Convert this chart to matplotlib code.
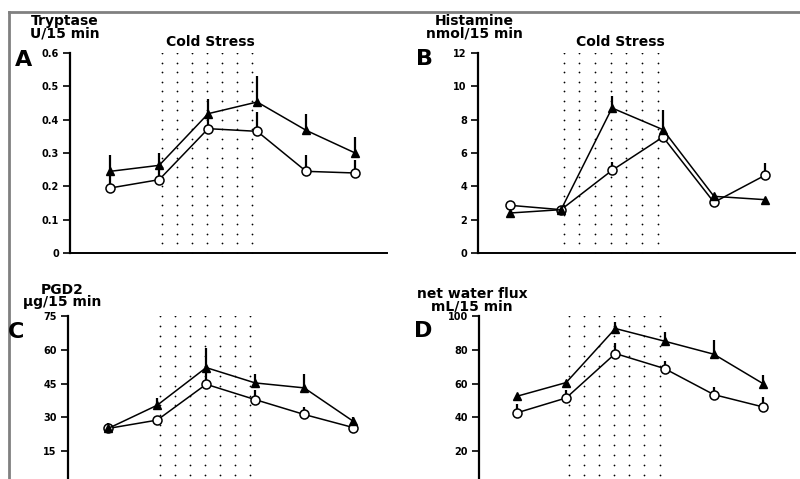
import numpy as np
import matplotlib
matplotlib.use('Agg')
import matplotlib.pyplot as plt
from matplotlib.lines import Line2D

plt.rcParams['font.family'] = ['DejaVu Sans']
plt.rcParams['font.weight'] = 'bold'

W, H = 800, 479

# sampling periods (15 min each); cold stress over periods 2-4
periods = [1, 2, 3, 4, 5, 6]
cold_start, cold_end = 2.0, 3.95

# A: tryptase, U/15 min
tryp_tri = [0.245, 0.263, 0.418, 0.453, 0.368, 0.300]
tryp_tri_err = [0.05, 0.037, 0.045, 0.077, 0.05, 0.048]
tryp_circ = [0.195, 0.22, 0.373, 0.365, 0.245, 0.24]
tryp_circ_err = [0.035, 0.04, 0.04, 0.058, 0.048, 0.038]

# B: histamine, nmol/15 min
hist_tri = [2.4, 2.6, 8.7, 7.4, 3.4, 3.2]
hist_tri_err = [0, 0.2, 0.7, 1.2, 0, 0]
hist_circ = [2.86, 2.6, 4.96, 6.96, 3.04, 4.66]
hist_circ_err = [0, 0, 0.5, 0, 0, 0.74]

# C: PGD2, ug/15 min
pgd_tri = [25.1, 35.4, 52.1, 45.3, 43.1, 28.3]
pgd_tri_err = [2.2, 3.0, 8.5, 3.9, 6.1, 1.9]
pgd_circ = [25.1, 28.8, 44.7, 37.9, 31.3, 25.5]
pgd_circ_err = [0, 1.5, 7.0, 4.2, 3.4, 0]

# D: net water flux, mL/15 min
flux_tri = [52.5, 60.6, 92.6, 85.1, 77.4, 60.0]
flux_tri_err = [0, 0, 3.9, 5.5, 8.3, 5.0]
flux_circ = [42.7, 51.5, 77.8, 68.9, 53.5, 46.2]
flux_circ_err = [5.5, 4.6, 6.3, 4.5, 4.5, 5.9]

ticks_a = [0, 0.1, 0.2, 0.3, 0.4, 0.5, 0.6]
labels_a = ['0', '0.1', '0.2', '0.3', '0.4', '0.5', '0.6']
ticks_b = [0, 2, 4, 6, 8, 10, 12]
ticks_c = [15, 30, 45, 60, 75]
ticks_d = [20, 40, 60, 80, 100]


def box(left, right, top, bottom):
    # pixel box (from top-left) -> figure fraction
    return [left / W, 1 - bottom / H, (right - left) / W, (bottom - top) / H]


def fpos(x, y):
    return x / W, 1 - y / H


fig = plt.figure(figsize=(W / 100, H / 100), dpi=100)

panels = [
    # box, xlim, ylim, ticks, ticklabels, tri, tri_err, circ, circ_err
    (box(70, 387, 53, 253), (0.18, 6.65), (0, 0.6), ticks_a, labels_a,
     tryp_tri, tryp_tri_err, tryp_circ, tryp_circ_err),
    (box(478, 795, 53, 253), (0.37, 6.59), (0, 12), ticks_b, None,
     hist_tri, hist_tri_err, hist_circ, hist_circ_err),
    (box(68, 387, 316, 485), (0.18, 6.69), (0, 75), ticks_c, None,
     pgd_tri, pgd_tri_err, pgd_circ, pgd_circ_err),
    (box(479, 795, 316, 485), (0.23, 6.65), (0, 100), ticks_d, None,
     flux_tri, flux_tri_err, flux_circ, flux_circ_err),
]

for pos, xlim, ylim, ticks, tlabels, tri, tri_err, circ, circ_err in panels:
    ax = fig.add_axes(pos)
    ax.set_xlim(*xlim)
    ax.set_ylim(*ylim)

    # dotted cold stress band
    px_per_y = pos[3] * H / (ylim[1] - ylim[0])
    nrows = int((ylim[1] - ylim[0]) * px_per_y / 9.5) + 1
    gx, gy = np.meshgrid(np.linspace(cold_start + 0.05, cold_end - 0.05, 7),
                         np.linspace(ylim[0], ylim[1], nrows))
    ax.scatter(gx.ravel(), gy.ravel(), s=1.6, color='black', lw=0, zorder=1)

    # upward error bars
    ax.vlines(periods, tri, np.array(tri) + np.array(tri_err), color='black',
              lw=1.6, zorder=2)
    ax.vlines(periods, circ, np.array(circ) + np.array(circ_err), color='black',
              lw=1.6, zorder=2)
    ax.plot(periods, circ, '-o', color='black', lw=1.1, ms=6.5,
            mfc='white', mec='black', mew=1.1, zorder=3)
    ax.plot(periods, tri, '-^', color='black', lw=1.1, ms=6,
            mfc='black', mec='black', zorder=4)

    ax.set_yticks(ticks)
    if tlabels is not None:
        ax.set_yticklabels(tlabels)
    ax.set_xticks([])
    ax.tick_params(axis='y', direction='out', length=5, width=1.2,
                   labelsize=7, pad=3)
    for lab in ax.get_yticklabels():
        lab.set_fontweight('bold')
    ax.spines['top'].set_visible(False)
    ax.spines['right'].set_visible(False)
    ax.spines['left'].set_linewidth(1.6)
    ax.spines['bottom'].set_linewidth(1.4)
    ax.patch.set_alpha(0)

# axis titles, panel letters
txt = dict(ha='center', va='center', fontweight='bold', fontsize=10,
           linespacing=0.85)
fig.text(*fpos(65, 27), 'Tryptase\nU/15 min', **txt)
fig.text(*fpos(474, 27), 'Histamine\nnmol/15 min', **txt)
fig.text(*fpos(62, 296), 'PGD2\nμg/15 min', **txt)
fig.text(*fpos(472, 300), 'net water flux\nmL/15 min', **txt)

fig.text(*fpos(210, 42), 'Cold Stress', **txt)
fig.text(*fpos(620, 42), 'Cold Stress', **txt)

let = dict(ha='center', va='center', fontweight='bold', fontsize=16)
fig.text(*fpos(24, 60), 'A', **let)
fig.text(*fpos(424, 59), 'B', **let)
fig.text(*fpos(16, 332), 'C', **let)
fig.text(*fpos(423, 331), 'D', **let)

# scan frame
fig.add_artist(Line2D([9 / W, 1], [1 - 12 / H] * 2, color='#808080', lw=2))
fig.add_artist(Line2D([9 / W] * 2, [1 - 12 / H, 0], color='#808080', lw=2))

fig.savefig('out.png', dpi=100)
